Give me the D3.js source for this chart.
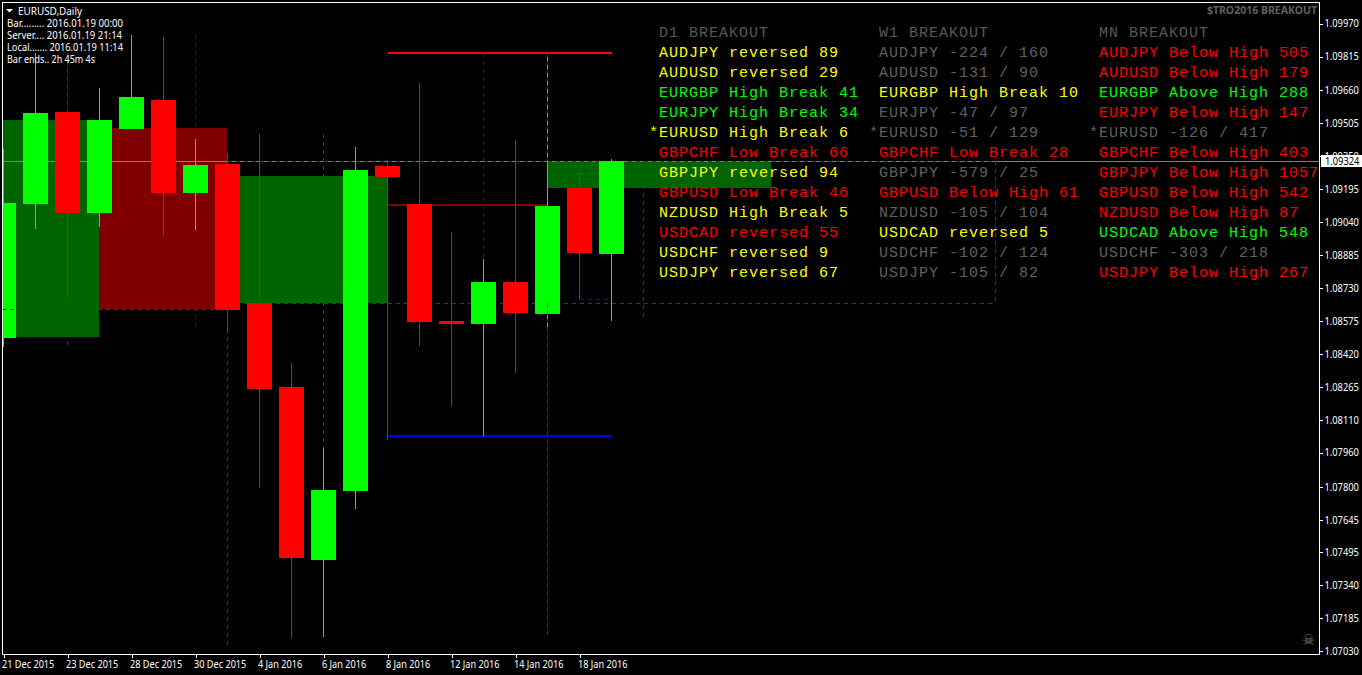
<!DOCTYPE html>
<html><head><meta charset="utf-8"><title>EURUSD,Daily</title>
<script src="https://cdn.jsdelivr.net/npm/d3@7"></script>
<style>html,body{margin:0;padding:0;background:#000;overflow:hidden}svg{display:block}</style>
</head><body><svg id="c" width="1362" height="675"></svg>
<script>
const dates=["21 Dec 2015","22 Dec 2015","23 Dec 2015","24 Dec 2015","28 Dec 2015","29 Dec 2015","30 Dec 2015","31 Dec 2015","4 Jan 2016","5 Jan 2016","6 Jan 2016","7 Jan 2016","8 Jan 2016","11 Jan 2016","12 Jan 2016","13 Jan 2016","14 Jan 2016","15 Jan 2016","18 Jan 2016","19 Jan 2016"];
const opens =[1.08497,1.09124,1.09555,1.09082,1.09476,1.09612,1.09176,1.09312,1.08660,1.08267,1.07456,1.07780,1.09302,1.09124,1.08576,1.08562,1.08759,1.08609,1.09199,1.08890];
const highs =[1.09382,1.09832,1.09555,1.09668,1.09916,1.09907,1.09429,1.09363,1.09452,1.08379,1.07981,1.09391,1.09330,1.09691,1.08993,1.08867,1.09424,1.09832,1.09270,1.09335];
const lows  =[1.08454,1.09007,1.08684,1.09017,1.09476,1.08974,1.09003,1.08520,1.07794,1.07091,1.07096,1.07695,1.08019,1.08459,1.08178,1.08037,1.08333,1.08529,1.08679,1.08576];
const closes=[1.09129,1.09551,1.09082,1.09518,1.09626,1.09176,1.09307,1.08628,1.08258,1.07466,1.07784,1.09284,1.09251,1.08571,1.08562,1.08759,1.08614,1.09115,1.08895,1.09324];
const priceTicks=[1.0997,1.09815,1.0966,1.09505,1.0935,1.09195,1.0904,1.08885,1.0873,1.08575,1.0842,1.08265,1.0811,1.0796,1.078,1.07645,1.07495,1.0734,1.07185,1.0703];
const dateTickBars=[0,2,4,6,8,10,12,14,16,18];
const currentPrice=1.09324;
// zones: bar from, bar to, upper price, lower price, kind
const zoneFrom=[-1,3,7,17,12], zoneTo=[3,7,12,24,17];
const zoneHigh=[1.09518,1.09480,1.09256,1.09326,1.09124], zoneLow=[1.08501,1.08632,1.08660,1.09199,1.09115];
const zoneKind=["up","down","up","up","down"];
// level segments
const levelFrom=[12,12,18,18], levelTo=[19,19,19,19], levelPrice=[1.09834,1.08036,1.09270,1.08679];
const levelKind=["r","b","rd","bd"];
// dashed box lines
const hDashPrice=[1.09326,1.08660], hDashFrom=[7,7], hDashTo=[31,31];
const vDashBar=[2,6,7,10,15,20,31], vDashHigh=[1.09832,1.09916,1.09326,1.09452,1.09832,1.09326,1.09326], vDashLow=[1.08454,1.08534,1.07039,1.07981,1.08862,1.08595,1.08660];
const vDashKind=["g","r","g","g","r","g","g"];
const panelHeads=["D1 BREAKOUT","W1 BREAKOUT","MN BREAKOUT"];
const d1Rows=[["AUDJPY reversed 89","y"],["AUDUSD reversed 29","y"],["EURGBP High Break 41","g"],["EURJPY High Break 34","g"],["*EURUSD High Break 6","y"],["GBPCHF Low Break 66","r"],["GBPJPY reversed 94","y"],["GBPUSD Low Break 46","r"],["NZDUSD High Break 5","y"],["USDCAD reversed 55","r"],["USDCHF reversed 9","y"],["USDJPY reversed 67","y"]];
const w1Rows=[["AUDJPY -224 / 160","n"],["AUDUSD -131 / 90","n"],["EURGBP High Break 10","y"],["EURJPY -47 / 97","n"],["*EURUSD -51 / 129","n"],["GBPCHF Low Break 28","r"],["GBPJPY -579 / 25","n"],["GBPUSD Below High 61","r"],["NZDUSD -105 / 104","n"],["USDCAD reversed 5","y"],["USDCHF -102 / 124","n"],["USDJPY -105 / 82","n"]];
const mnRows=[["AUDJPY Below High 505","r"],["AUDUSD Below High 179","r"],["EURGBP Above High 288","g"],["EURJPY Below High 147","r"],["*EURUSD -126 / 417","n"],["GBPCHF Below High 403","r"],["GBPJPY Below High 1057","r"],["GBPUSD Below High 542","r"],["NZDUSD Below High 87","r"],["USDCAD Above High 548","g"],["USDCHF -303 / 218","n"],["USDJPY Below High 267","r"]];
const infoLines=["Bar......... 2016.01.19 00:00","Server.... 2016.01.19 21:14","Local....... 2016.01.19 11:14","Bar ends.. 2h 45m 4s"];
const infoWidths=[116,115,116,88];

const UI='"Noto Sans",sans-serif', MONO='"Liberation Mono",monospace';
const svg=d3.select("#c");
const x=d3.scaleLinear().domain([0,19]).range([3.5,611.5]);
const y=d3.scaleLinear().domain([1.0703,1.0997]).range([651,23.5]);
const L=2,T=2,R=1319,B=654;
// narrow the UI font's glyphs to the width of the terminal's font
const fit=(node,w)=>{node.setAttribute("textLength",w);node.setAttribute("lengthAdjust","spacingAndGlyphs");};
const squeeze=(sel,f)=>sel.each(function(){fit(this,this.getComputedTextLength()*f);});

svg.append("clipPath").attr("id","plot").append("rect").attr("x",L).attr("y",T).attr("width",R-L).attr("height",B-T);
const g=svg.append("g").attr("clip-path","url(#plot)").attr("shape-rendering","crispEdges");
const zoneCol={up:"#006400",down:"#800000"};
zoneFrom.forEach((f,i)=>g.append("rect").attr("x",x(f)-.5).attr("width",x(zoneTo[i])-x(f))
  .attr("y",y(zoneHigh[i])).attr("height",y(zoneLow[i])-y(zoneHigh[i])).attr("fill",zoneCol[zoneKind[i]]));
const dash="4,4";
const dkg="#006400", dkr="#800000";
const hy=p=>Math.round(y(p))+.5;
g.append("line").attr("x1",L).attr("x2",R).attr("y1",hy(currentPrice)).attr("y2",hy(currentPrice)).attr("stroke","#808080");
vDashBar.forEach((b,i)=>g.append("line").attr("x1",x(b)).attr("x2",x(b)).attr("y1",y(vDashHigh[i])).attr("y2",y(vDashLow[i]))
  .attr("stroke",vDashKind[i]==="g"?dkg:dkr).attr("stroke-dasharray",dash));
hDashPrice.forEach((p,i)=>g.append("line").attr("x1",x(hDashFrom[i])).attr("x2",x(hDashTo[i])).attr("y1",hy(p)).attr("y2",hy(p))
  .attr("stroke",dkg).attr("stroke-dasharray",dash));
const lvl={r:["#ff0000",null,2],b:["#0000ff",null,2],rd:["#ff0000",dash,1],bd:["#0000ff",dash,1]};
levelPrice.forEach((p,i)=>g.append("line").attr("x1",x(levelFrom[i])).attr("x2",x(levelTo[i])).attr("y1",lvl[levelKind[i]][2]===2?Math.round(y(p)):hy(p)).attr("y2",lvl[levelKind[i]][2]===2?Math.round(y(p)):hy(p))
  .attr("stroke",lvl[levelKind[i]][0]).attr("stroke-width",lvl[levelKind[i]][2]).attr("stroke-dasharray",lvl[levelKind[i]][1]));
const bars=d3.range(dates.length);
const col=i=>closes[i]>=opens[i]?"#00ff00":"#ff0000";
g.selectAll(".w").data(bars).join("line").attr("class","w").attr("x1",x).attr("x2",x)
  .attr("y1",i=>y(highs[i])).attr("y2",i=>y(lows[i])).attr("stroke",col);
g.selectAll(".b").data(bars).join("rect").attr("class","b").attr("x",i=>x(i)-12.5).attr("width",25)
  .attr("y",i=>y(Math.max(opens[i],closes[i]))).attr("height",i=>Math.abs(y(opens[i])-y(closes[i]))).attr("fill",col);
// dashes that sit over the candles
g.append("line").attr("x1",L).attr("x2",x(7)).attr("y1",hy(zoneLow[1])).attr("y2",hy(zoneLow[1])).attr("stroke",dkg).attr("stroke-dasharray",dash);
[[1.09832,1.09326],[1.08660,1.07105]].forEach(s=>g.append("line").attr("x1",x(17)).attr("x2",x(17)).attr("y1",y(s[0])).attr("y2",y(s[1])).attr("stroke",dkg).attr("stroke-dasharray",dash));

// panels
const colors={y:"#ffff00",g:"#00ff00",r:"#ff0000",n:"#606060"};
const panelX=[659,879,1099];
const t=svg.append("g").attr("font-family",MONO).attr("font-size",15).attr("letter-spacing",1).attr("xml:space","preserve");
[d1Rows,w1Rows,mnRows].forEach((rows,c)=>{
  t.append("text").attr("x",panelX[c]).attr("y",37).attr("fill","#585858").text(panelHeads[c]);
  rows.forEach((r,i)=>{
    const star=r[0][0]==="*";
    t.append("text").attr("x",panelX[c]-(star?10:0)).attr("y",57+20*i).attr("fill",colors[r[1]]).text(r[0]);
  });
});
// header text
svg.append("path").attr("d",d3.line()([[6,9],[13,9],[9.5,12.5]])+"Z").attr("fill","#fff");
fit(svg.append("text").attr("x",18).attr("y",15).attr("fill","#fff").attr("font-family",UI).attr("font-size",10.7).text("EURUSD,Daily").node(),64);
infoLines.forEach((s,i)=>fit(svg.append("text").attr("x",7).attr("y",27+12*i).attr("fill","#fff").attr("font-family",UI).attr("font-size",10.2).text(s).node(),infoWidths[i]));
svg.append("text").attr("x",1317).attr("y",14).attr("text-anchor","end").attr("fill","#606060").attr("font-family",UI).attr("font-weight",700).attr("font-size",10.5).text("$TRO2016 BREAKOUT");
svg.append("text").attr("x",1308.5).attr("y",645).attr("text-anchor","middle").attr("fill","#777").attr("font-family",'"DejaVu Sans"').attr("font-size",15).text("☠");

// axes
const ay=d3.axisRight(y).tickValues(priceTicks).tickSize(3).tickPadding(2).tickFormat(d3.format(".5f"));
const gy=svg.append("g").attr("transform",`translate(${R+.5},0)`).call(ay);
const ax=d3.axisBottom(x).tickValues(dateTickBars).tickSize(3).tickPadding(3).tickFormat(i=>dates[i]);
const gx=svg.append("g").attr("transform",`translate(0,${B+.5})`).call(ax);
[gy,gx].forEach(a=>{a.selectAll("line").attr("stroke","#fff").attr("shape-rendering","crispEdges");
 a.select(".domain").remove();
 a.selectAll("text").attr("fill","#fff").attr("font-family",UI).attr("font-size",10.5);});
gx.selectAll("text").attr("text-anchor","start").attr("dx",-2);
squeeze(gy.selectAll("text"),.885);
squeeze(gx.selectAll("text"),.87);
// frame
svg.append("rect").attr("x",L+.5).attr("y",T+.5).attr("width",R-L).attr("height",B-T).attr("fill","none").attr("stroke","#fff").attr("shape-rendering","crispEdges");
// current price tag
const py=Math.round(y(currentPrice));
svg.append("rect").attr("x",1321).attr("y",py-6).attr("width",41).attr("height",12).attr("fill","#fff");
const tag=svg.append("text").attr("x",1325).attr("y",py+4).attr("fill","#000").attr("font-family",UI).attr("font-size",10.5).text(d3.format(".5f")(currentPrice));
squeeze(tag,.885);
</script></body></html>
